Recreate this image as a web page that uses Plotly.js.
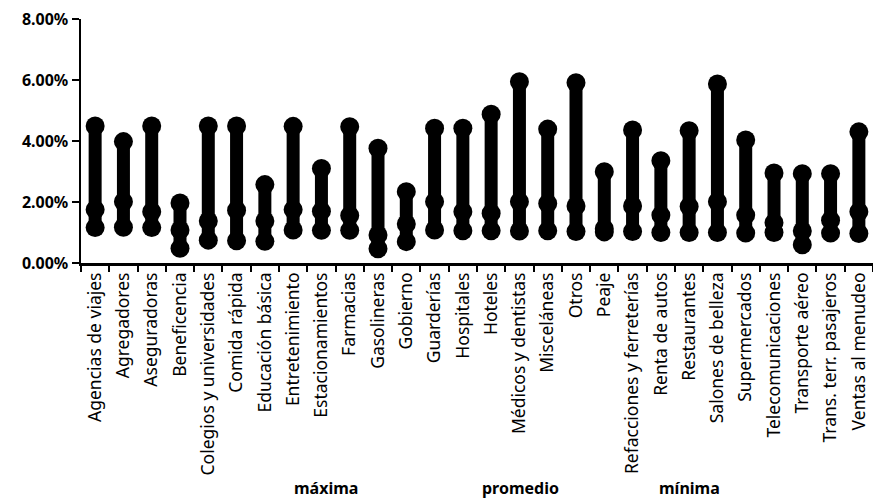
<!DOCTYPE html>
<html>
<head>
<meta charset="utf-8">
<script src="https://cdn.plot.ly/plotly-3.0.1.min.js"></script>
<style>html,body{margin:0;padding:0;background:#fff;}#chart{width:873px;height:502px;}</style>
</head>
<body>
<div id="chart"></div>
<script>
const categories = ["Agencias de viajes","Agregadores","Aseguradoras","Beneficencia","Colegios y universidades","Comida rápida","Educación básica","Entretenimiento","Estacionamientos","Farmacias","Gasolineras","Gobierno","Guarderías","Hospitales","Hoteles","Médicos y dentistas","Misceláneas","Otros","Peaje","Refacciones y ferreterías","Renta de autos","Restaurantes","Salones de belleza","Supermercados","Telecomunicaciones","Transporte aéreo","Trans. terr. pasajeros","Ventas al menudeo"];
const maxima   = [4.49,3.98,4.49,1.97,4.49,4.49,2.57,4.48,3.10,4.47,3.76,2.34,4.42,4.42,4.88,5.94,4.39,5.91,2.99,4.36,3.35,4.34,5.87,4.03,2.95,2.93,2.93,4.30];
const promedio = [1.75,2.01,1.68,1.08,1.38,1.73,1.38,1.75,1.70,1.56,0.92,1.28,2.01,1.68,1.63,2.01,1.95,1.87,1.12,1.87,1.57,1.85,2.01,1.57,1.32,1.05,1.40,1.68];
const minima   = [1.16,1.17,1.16,0.48,0.75,0.73,0.71,1.08,1.07,1.07,0.47,0.70,1.08,1.06,1.06,1.05,1.06,1.03,1.02,1.03,1.00,1.00,1.00,0.98,1.00,0.60,0.98,0.97];
const legendNames = ["máxima","promedio","mínima"];
const yTicks = [0,2,4,6,8];

const toFrac = a => a.map(v => v/100);
const segX = [], segY = [];
categories.forEach((c,i)=>{ segX.push(c,c,null); segY.push(minima[i]/100, maxima[i]/100, null); });

const mk = {color:'#000', size:19, symbol:'circle'};
const traces = [
  {x:segX, y:segY, mode:'lines', line:{color:'#000', width:13}, connectgaps:false, showlegend:false, hoverinfo:'skip'},
  {x:categories, y:toFrac(maxima), mode:'markers', marker:mk, name:legendNames[0], showlegend:false},
  {x:categories, y:toFrac(promedio), mode:'markers', marker:mk, name:legendNames[1], showlegend:false},
  {x:categories, y:toFrac(minima), mode:'markers', marker:mk, name:legendNames[2], showlegend:false}
];

const legendX = [326, 520, 689];
const annotations = legendNames.map((n,i)=>({
  text:n, xref:'paper', yref:'paper', x:(legendX[i]-81)/792, y:-(488-263)/244,
  xanchor:'center', yanchor:'middle', showarrow:false,
  font:{family:'Noto Sans, sans-serif', size:16, color:'#000', weight:'bold'}
}));

const layout = {
  width:873, height:502,
  margin:{l:81, r:0, t:19, b:239},
  paper_bgcolor:'#fff', plot_bgcolor:'#fff',
  showlegend:false,
  xaxis:{
    type:'category', range:[-0.5, 27.5],
    tickangle:-90, tickson:'boundaries', ticks:'outside', ticklen:6, tickwidth:2, tickcolor:'#000',
    showline:true, linecolor:'#000', linewidth:2.5, showgrid:false, zeroline:false,
    tickfont:{family:'Noto Sans, sans-serif', size:17.5, color:'#000'}
  },
  yaxis:{
    range:[0,0.08], tickvals:yTicks.map(v=>v/100), ticktext:yTicks.map(v=>v.toFixed(2)+'%'),
    ticks:'outside', ticklen:7, tickwidth:2, tickcolor:'#000',
    showline:true, linecolor:'#000', linewidth:2.5, showgrid:false, zeroline:false,
    tickfont:{family:'Noto Sans, sans-serif', size:16, color:'#000', weight:'bold'}
  },
  annotations:annotations
};
Plotly.newPlot('chart', traces, layout, {displayModeBar:false, staticPlot:true});
</script>
</body>
</html>
